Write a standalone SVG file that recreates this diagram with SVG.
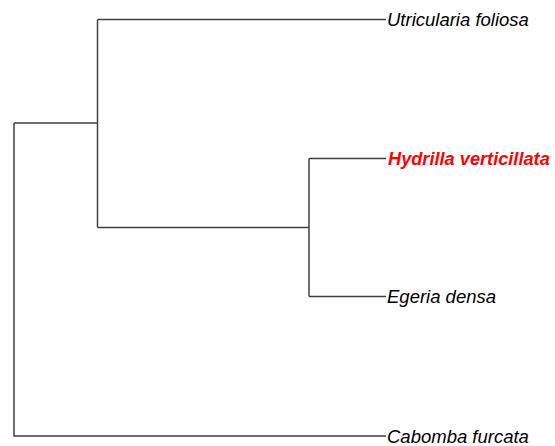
<svg xmlns="http://www.w3.org/2000/svg" width="555" height="446" viewBox="0 0 555 446">
<style>
.e{stroke:#404040;stroke-width:1.5;fill:none}
.t{font-family:"Liberation Sans",Arial,sans-serif;font-style:italic;font-size:18.5px;fill:#000}
.h{font-family:"Liberation Sans",Arial,sans-serif;font-style:italic;font-weight:bold;font-size:18.2px;fill:#ff0000}
</style>
<rect width="555" height="446" fill="#fff"/>
<g id="connectors">
<path class="e" d="M14,123 V436 H386"/>
<path class="e" d="M14,123 H97.5"/>
<path class="e" d="M97.5,19.5 V227.5"/>
<path class="e" d="M97.5,19.5 H386"/>
<path class="e" d="M97.5,227.5 H309"/>
<path class="e" d="M309,158.5 V296.5"/>
<path class="e" d="M309,158.5 H386"/>
<path class="e" d="M309,296.5 H386"/>
</g>
<g id="utricularia"><text class="t" x="387" y="26">Utricularia foliosa</text></g>
<g id="hydrilla"><text class="h" x="388" y="165">Hydrilla verticillata</text></g>
<g id="egeria"><text class="t" x="387" y="303">Egeria densa</text></g>
<g id="cabomba"><text class="t" x="387" y="443">Cabomba furcata</text></g>
</svg>
